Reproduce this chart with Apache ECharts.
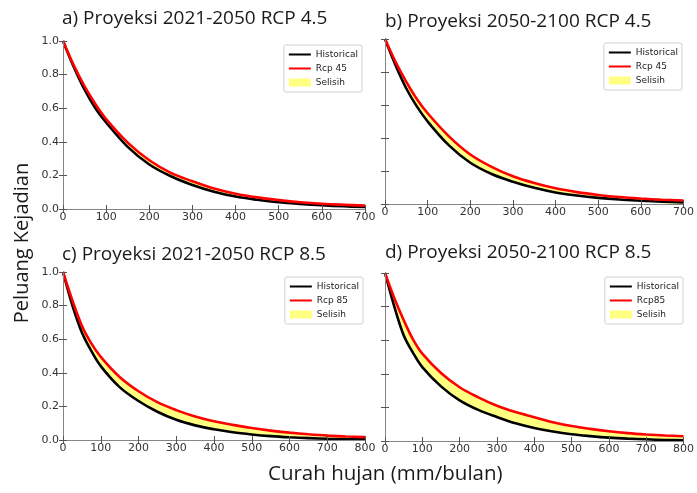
<!DOCTYPE html>
<html><head><meta charset="utf-8">
<script src="https://cdn.jsdelivr.net/npm/echarts@6/dist/echarts.min.js"></script>
<style>html,body{margin:0;padding:0;background:#fff}#c{width:697px;height:493px}</style>
</head><body><div id="c"></div>
<script>
// ---- data ----
const xA = [0,25,50,75,100,150,200,250,300,350,400,450,500,550,600,650,700];
const histA = [1.0,0.845,0.71,0.60,0.515,0.37,0.265,0.195,0.143,0.103,0.074,0.055,0.04,0.03,0.022,0.016,0.012];
const rcpA  = [1.0,0.855,0.73,0.625,0.535,0.395,0.29,0.215,0.165,0.122,0.091,0.069,0.053,0.04,0.031,0.025,0.02];
const xB = [0,25,50,75,100,150,200,250,300,350,400,450,500,550,600,650,700];
const histB = [1.0,0.84,0.70,0.59,0.50,0.355,0.25,0.182,0.135,0.098,0.07,0.051,0.037,0.027,0.02,0.014,0.01];
const rcpB  = [1.0,0.86,0.74,0.635,0.55,0.41,0.30,0.225,0.168,0.127,0.095,0.072,0.055,0.042,0.033,0.026,0.021];
const xC = [0,25,50,75,100,150,200,250,300,350,400,450,500,550,600,650,700,750,800];
const histC = [1.0,0.80,0.64,0.53,0.44,0.315,0.232,0.168,0.12,0.087,0.064,0.046,0.033,0.023,0.016,0.011,0.007,0.005,0.004];
const rcpC  = [1.0,0.83,0.68,0.575,0.495,0.375,0.29,0.225,0.178,0.14,0.112,0.09,0.071,0.056,0.044,0.034,0.026,0.021,0.017];
const xD = [0,25,50,75,100,150,200,250,300,350,400,450,500,550,600,650,700,750,800];
const histD = [1.0,0.80,0.63,0.525,0.44,0.325,0.242,0.185,0.143,0.105,0.077,0.056,0.04,0.029,0.02,0.014,0.01,0.006,0.004];
const rcpD  = [1.0,0.85,0.72,0.605,0.52,0.405,0.32,0.26,0.21,0.172,0.142,0.112,0.089,0.072,0.058,0.047,0.039,0.033,0.028];

const titles = ['a) Proyeksi 2021-2050 RCP 4.5','b) Proyeksi 2050-2100 RCP 4.5','c) Proyeksi 2021-2050 RCP 8.5','d) Proyeksi 2050-2100 RCP 8.5'];
const rcpNames = ['Rcp 45','Rcp 45','Rcp 85','Rcp85'];
const histName = 'Historical';
const diffName = 'Selisih';
const xMaxes = [700,700,800,800];
const yLabelText = 'Peluang Kejadian';
const xLabelText = 'Curah hujan (mm/bulan)';

// ---- layout ----
const grids = [
  {left:63, top:41, width:302, height:168},
  {left:385, top:39, width:302, height:165},
  {left:63, top:272, width:302, height:168},
  {left:385, top:273, width:303, height:168}
];
const titlePos = [{left:62,top:9},{left:385,top:12},{left:62,top:245},{left:385,top:243}];
const legendPos = [{right:335,top:45},{right:15,top:43},{right:334,top:277},{right:14,top:277}];

const panels = [[xA,histA,rcpA],[xB,histB,rcpB],[xC,histC,rcpC],[xD,histD,rcpD]];
const FONT = 'DejaVu Sans';
const TFONT = 'Open Sans';
const frame = '#858585';
const YEL = '#ffff80';
const SM = 0.35;

const xAxes = [], yAxes = [], series = [], legends = [], titleArr = [];
panels.forEach((p, i) => {
  const [xs, h, r] = p;
  const base = {type:'value', gridIndex:i, z:10, splitLine:{show:false},
    axisLine:{lineStyle:{color:frame,width:1}},
    axisTick:{inside:true,length:4,lineStyle:{color:'#555'}}};
  xAxes.push(Object.assign({}, base, {position:'bottom', min:0, max:xMaxes[i], interval:100,
    axisLabel:{fontSize:11, color:'#333', margin:3, fontFamily:FONT}}));
  xAxes.push(Object.assign({}, base, {position:'top', min:0, max:xMaxes[i], interval:100, axisLabel:{show:false}}));
  yAxes.push(Object.assign({}, base, {position:'left', min:0, max:1, interval:0.2,
    axisLabel:{show: i % 2 === 0, fontSize:11, color:'#333', margin:4, fontFamily:FONT, formatter:v=>v.toFixed(1)}}));
  yAxes.push(Object.assign({}, base, {position:'right', min:0, max:1, interval:0.2, axisLabel:{show:false}}));
  const xi = 2*i, yi = 2*i;
  const hd = xs.map((x,k)=>[x,h[k]]);
  const rd = xs.map((x,k)=>[x,r[k]]);
  // yellow band = area under Rcp minus area under Historical (masked white)
  series.push({type:'line', name:diffName, xAxisIndex:xi, yAxisIndex:yi, data:rd,
    symbol:'none', smooth:SM, lineStyle:{width:0, color:YEL},
    itemStyle:{color:YEL}, areaStyle:{color:YEL, opacity:1}, silent:true, z:1});
  series.push({type:'line', name:'mask'+i, xAxisIndex:xi, yAxisIndex:yi, data:hd,
    symbol:'none', smooth:SM, lineStyle:{width:0, color:'#fff'},
    itemStyle:{color:'#fff'}, areaStyle:{color:'#fff', opacity:1}, silent:true, z:2});
  series.push({type:'line', name:histName, xAxisIndex:xi, yAxisIndex:yi, data:hd,
    symbol:'none', smooth:SM, lineStyle:{width:2.6, color:'#000'}, itemStyle:{color:'#000'}, z:3});
  series.push({type:'line', name:rcpNames[i], xAxisIndex:xi, yAxisIndex:yi, data:rd,
    symbol:'none', smooth:SM, lineStyle:{width:2.6, color:'#ff0000'}, itemStyle:{color:'#ff0000'}, z:4});
  legends.push(Object.assign({
    orient:'vertical', backgroundColor:'#fff', borderColor:'#cfcfcf', borderWidth:1, borderRadius:2,
    padding:[5,4,5,4], itemWidth:22, itemHeight:8, itemGap:5, selectedMode:false, z:20,
    textStyle:{fontSize:9, fontFamily:FONT, color:'#222', lineHeight:9},
    data:[{name:histName, itemStyle:{opacity:0}},
          {name:rcpNames[i], itemStyle:{opacity:0}},
          {name:diffName, icon:'rect', itemStyle:{color:YEL, opacity:1}}]
  }, legendPos[i]));
  titleArr.push(Object.assign({text:titles[i], padding:0,
    textStyle:{fontSize:19, fontWeight:'normal', color:'#1a1a1a', fontFamily:TFONT}}, titlePos[i]));
});
titleArr.push({text:xLabelText, left:268, top:464, padding:0,
  textStyle:{fontSize:20.5, fontWeight:'normal', color:'#1a1a1a', fontFamily:TFONT}});

const chart = echarts.init(document.getElementById('c'), null, {renderer:'canvas'});
chart.setOption({
  animation:false,
  backgroundColor:'#fff',
  title:titleArr,
  legend:legends,
  grid:grids,
  xAxis:xAxes,
  yAxis:yAxes,
  series:series,
  graphic:[{type:'text', x:22, y:243, rotation:Math.PI/2,
    style:{text:yLabelText, fontSize:20, fontFamily:TFONT, fill:'#1a1a1a', textAlign:'center', textVerticalAlign:'middle'}}]
});
</script></body></html>
